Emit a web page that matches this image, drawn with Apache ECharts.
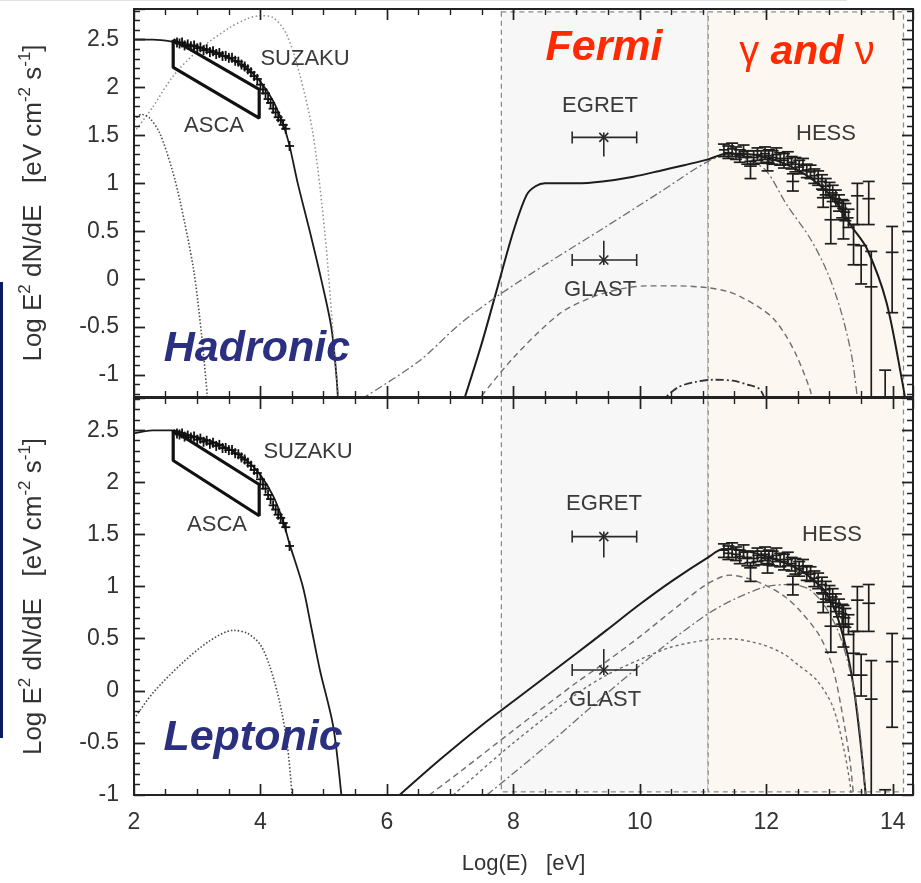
<!DOCTYPE html>
<html>
<head>
<meta charset="utf-8">
<script src="https://cdn.jsdelivr.net/npm/echarts@6/dist/echarts.min.js"></script>
<style>
  html, body { margin: 0; padding: 0; background: #ffffff; }
  #main { width: 921px; height: 883px; }
</style>
</head>
<body>
<div id="main"></div>
<script>
// ---------- axis ranges and tick spacing ----------
const xRange = [2, 14.32];
const yRangeHad = [-1.23, 2.82];
const yRangeLep = [-1.0, 2.81];
const xMajorStep = 2, xMinorStep = 0.5;
const yMajorStep = 0.5, yMinorStep = 0.1;

// energy bands (Fermi, gamma & neutrino) in Log(E)
const bandEdges = [7.81, 11.08, 14.17];
const bandTopHad = 2.79;
const bandBottomLep = -0.97;

// ---------- Hadronic model curves ----------
const hadSyncX = [2.0, 2.3, 2.6, 2.9, 3.2, 3.5, 3.8, 4.0, 4.2, 4.35, 4.45, 4.59, 4.78, 4.96, 5.12, 5.2, 5.23];
const hadSyncY = [2.5, 2.5, 2.48, 2.44, 2.39, 2.31, 2.19, 2.06, 1.86, 1.63, 1.42, 1.0, 0.5, 0.0, -0.5, -1.0, -1.3];
const hadWideDotX = [2.0, 2.3, 2.62, 3.0, 3.5, 3.8, 4.0, 4.2, 4.41, 4.62, 4.83, 5.02, 5.15, 5.24];
const hadWideDotY = [1.53, 1.8, 2.12, 2.38, 2.62, 2.72, 2.75, 2.73, 2.56, 2.14, 1.52, 0.47, -0.58, -1.3];
const hadLeftDotX = [2.0, 2.12, 2.25, 2.41, 2.6, 2.73, 2.94, 3.07, 3.17];
const hadLeftDotY = [1.66, 1.72, 1.68, 1.52, 1.15, 0.81, 0.11, -0.59, -1.3];
const hadTotalX = [7.2, 7.5, 7.73, 8.0, 8.21, 8.35, 8.5, 9.0, 9.41, 9.9, 10.31, 10.7, 11.08, 11.37, 11.8, 12.2, 12.6, 12.9, 13.1, 13.35, 13.59, 13.9, 14.15, 14.22];
const hadTotalY = [-1.3, -0.67, -0.13, 0.5, 0.88, 0.97, 1.0, 1.0, 1.02, 1.07, 1.13, 1.19, 1.25, 1.31, 1.3, 1.23, 1.1, 0.95, 0.81, 0.55, 0.32, -0.24, -1.07, -1.35];
const hadPionX = [5.6, 6.5, 7.15, 7.74, 8.5, 9.42, 10.3, 11.08, 11.4, 11.7, 12.0, 12.32, 12.69, 12.96, 13.17, 13.35, 13.45];
const hadPionY = [-1.25, -0.86, -0.47, -0.18, 0.15, 0.53, 0.9, 1.23, 1.29, 1.25, 1.13, 0.78, 0.43, 0.08, -0.31, -0.8, -1.3];
const hadNuX = [7.4, 8.0, 8.73, 9.2, 9.52, 9.8, 10.1, 10.6, 11.08, 11.4, 11.64, 11.9, 12.11, 12.3, 12.48, 12.69, 12.74];
const hadNuY = [-1.3, -0.82, -0.36, -0.2, -0.13, -0.09, -0.07, -0.07, -0.09, -0.13, -0.2, -0.3, -0.41, -0.58, -0.8, -1.15, -1.3];
const hadBumpX = [10.3, 10.6, 10.9, 11.16, 11.47, 11.7, 11.9, 12.0];
const hadBumpY = [-1.3, -1.13, -1.07, -1.05, -1.06, -1.1, -1.15, -1.3];

// ---------- Leptonic model curves ----------
const lepSyncX = [2.0, 2.3, 2.6, 2.9, 3.2, 3.5, 3.8, 4.0, 4.2, 4.35, 4.46, 4.67, 4.8, 4.94, 5.15, 5.28, 5.32];
const lepSyncY = [2.47, 2.5, 2.5, 2.45, 2.4, 2.32, 2.2, 2.07, 1.87, 1.64, 1.41, 1.0, 0.62, 0.2, -0.34, -1.0, -1.3];
const lepLowDotX = [2.0, 2.3, 2.77, 3.2, 3.57, 3.8, 4.0, 4.15, 4.3, 4.42, 4.5, 4.53];
const lepLowDotY = [-0.27, -0.02, 0.27, 0.48, 0.58, 0.55, 0.44, 0.23, -0.1, -0.5, -1.0, -1.3];
const lepTotalX = [6.2, 6.84, 7.5, 8.0, 9.0, 9.47, 10.0, 10.5, 11.08, 11.32, 11.6, 12.0, 12.5, 12.9, 13.1, 13.27, 13.38, 13.48, 13.56, 13.6];
const lepTotalY = [-1.0, -0.66, -0.33, -0.1, 0.36, 0.58, 0.83, 1.05, 1.28, 1.36, 1.35, 1.29, 1.17, 0.97, 0.75, 0.39, 0.04, -0.44, -0.92, -1.2];
const lepDashX = [6.67, 7.15, 8.0, 9.0, 9.47, 10.0, 10.7, 11.08, 11.42, 11.7, 12.0, 12.3, 12.53, 12.85, 13.06, 13.22, 13.32, 13.38, 13.42];
const lepDashY = [-1.0, -0.78, -0.38, 0.08, 0.28, 0.52, 0.86, 1.03, 1.11, 1.08, 1.01, 0.9, 0.77, 0.52, 0.2, -0.28, -0.66, -1.0, -1.2];
const lepDashDotX = [7.58, 8.5, 9.47, 10.3, 11.08, 11.5, 12.0, 12.4, 12.69, 12.95, 13.15, 13.3, 13.42, 13.5, 13.57, 13.6];
const lepDashDotY = [-1.0, -0.54, -0.03, 0.39, 0.74, 0.88, 1.0, 1.02, 0.97, 0.79, 0.55, 0.25, -0.1, -0.5, -1.0, -1.2];
const lepShortX = [7.05, 8.0, 9.0, 9.47, 10.0, 10.5, 11.08, 11.4, 11.9, 12.26, 12.5, 12.8, 13.05, 13.22, 13.33, 13.36];
const lepShortY = [-1.0, -0.5, -0.03, 0.15, 0.3, 0.42, 0.49, 0.5, 0.45, 0.36, 0.25, 0.1, -0.15, -0.54, -0.92, -1.2];

// ---------- X-ray data (SUZAKU) ----------
const suzakuX = [2.68, 2.72, 2.76, 2.8, 2.85, 2.9, 2.95, 3.0, 3.05, 3.1, 3.15, 3.2, 3.25, 3.3, 3.35, 3.4, 3.45, 3.5, 3.55, 3.6,
  3.65, 3.7, 3.75, 3.8, 3.85, 3.9, 3.95, 4.0, 4.04, 4.08, 4.12, 4.16, 4.2, 4.24, 4.28, 4.32, 4.36, 4.4, 4.46];
const suzakuY = [2.47, 2.46, 2.47, 2.44, 2.45, 2.43, 2.44, 2.41, 2.42, 2.39, 2.4, 2.37, 2.38, 2.35, 2.36, 2.33, 2.33, 2.31, 2.31, 2.28,
  2.27, 2.24, 2.22, 2.19, 2.16, 2.12, 2.09, 2.03, 1.98, 1.94, 1.88, 1.84, 1.78, 1.74, 1.69, 1.66, 1.61, 1.57, 1.39];

// ASCA flux band (corner points)
const ascaX = [2.62, 3.98, 3.98, 2.62, 2.62];
const ascaY = [2.5, 1.98, 1.68, 2.21, 2.5];

// ---------- EGRET / GLAST flux points ----------
const fluxX = [9.43, 9.43];
const fluxY = [1.48, 0.2];
const fluxXLo = [8.93, 8.93];
const fluxXHi = [9.95, 9.95];
const fluxLimit = [1.28, 0.4];

// ---------- HESS TeV data ----------
const hessX = [11.33, 11.4, 11.46, 11.52, 11.58, 11.64, 11.7, 11.8, 11.86, 11.92, 11.98, 12.04, 12.1, 12.16, 12.22, 12.28, 12.34,
  12.4, 12.46, 12.52, 12.58, 12.64, 12.7, 12.76, 12.82, 12.88, 12.94, 13.0, 13.05, 13.1, 13.15, 13.2, 13.25, 13.3,
  11.75, 12.02, 12.42, 12.9, 13.02, 13.22, 13.38, 13.44, 13.5, 13.62, 13.66, 13.99, 13.88];
const hessY = [1.35, 1.32, 1.36, 1.31, 1.29, 1.33, 1.28, 1.27, 1.3, 1.28, 1.31, 1.29, 1.27, 1.3, 1.26, 1.24, 1.26,
  1.22, 1.2, 1.17, 1.19, 1.14, 1.12, 1.08, 1.05, 1.02, 0.97, 0.93, 0.9, 0.84, 0.8, 0.74, 0.7, 0.64,
  1.18, 1.22, 1.02, 0.85, 0.62, 0.62, 0.36, 0.87, 0.15, 0.84, -0.08, 0.28, -1.5];
const hessErrLo = [0.07, 0.06, 0.08, 0.06, 0.07, 0.06, 0.08, 0.07, 0.06, 0.07, 0.06, 0.08, 0.07, 0.06, 0.07, 0.08, 0.06,
  0.07, 0.08, 0.07, 0.06, 0.08, 0.07, 0.08, 0.07, 0.08, 0.09, 0.08, 0.09, 0.08, 0.09, 0.1, 0.09, 0.1,
  0.13, 0.09, 0.1, 0.1, 0.25, 0.2, 0.21, 0.3, 0.2, 0.27, 1.5, 0.63, 0.5];
const hessErrHi = [0.06, 0.07, 0.06, 0.07, 0.06, 0.07, 0.06, 0.07, 0.07, 0.06, 0.07, 0.06, 0.07, 0.07, 0.06, 0.07, 0.07,
  0.06, 0.07, 0.07, 0.07, 0.06, 0.07, 0.07, 0.08, 0.07, 0.08, 0.08, 0.08, 0.09, 0.08, 0.09, 0.09, 0.09,
  0.05, 0.05, 0.08, 0.08, 0.25, 0.2, 0.21, 0.13, 0.2, 0.18, 0.37, 0.27, 0.55];
const hessXErr = [0.08, 0.08, 0.08, 0.08, 0.08, 0.08, 0.08, 0.08, 0.08, 0.08, 0.08, 0.08, 0.08, 0.08, 0.08, 0.08, 0.08,
  0.08, 0.08, 0.08, 0.08, 0.08, 0.08, 0.08, 0.08, 0.08, 0.08, 0.08, 0.08, 0.08, 0.08, 0.08, 0.08, 0.08,
  0.1, 0.1, 0.1, 0.1, 0.1, 0.1, 0.1, 0.1, 0.1, 0.1, 0.1, 0.1, 0.1];

// ---------- layout ----------
const gridBoxes = [
  { left: 134, top: 9, width: 779, height: 388 },
  { left: 134, top: 398, width: 779, height: 397 }
];

// ---------- helpers ----------
const FONT = '"Liberation Sans", Arial, Helvetica, sans-serif';
const INK = '#1c1c1c';
const zip = (xs, ys) => xs.map((x, i) => [x, ys[i]]);
const onStep = (v, step) => Math.abs(v / step - Math.round(v / step)) < 1e-6;

function curve(name, xs, ys, grid, style) {
  return {
    name, type: 'line', xAxisIndex: grid * 2, yAxisIndex: grid * 2,
    data: zip(xs, ys), showSymbol: false, smooth: 0.3, clip: true, silent: true, z: 3,
    lineStyle: Object.assign({ color: INK, width: 1.8, type: 'solid' }, style)
  };
}

function bands(grid, yLo, yHi) {
  const fills = ['#f7f7f7', '#fcf8f1'];
  const data = [[bandEdges[0], bandEdges[1]], [bandEdges[1], bandEdges[2]]];
  return {
    type: 'custom', xAxisIndex: grid * 2, yAxisIndex: grid * 2, data, clip: true, silent: true, z: 1,
    renderItem(params, api) {
      const p0 = api.coord([api.value(0), yHi]);
      const p1 = api.coord([api.value(1), yLo]);
      const shape = { x: p0[0], y: p0[1], width: p1[0] - p0[0], height: p1[1] - p0[1] };
      return {
        type: 'group', children: [
          { type: 'rect', shape, style: { fill: fills[params.dataIndex] } },
          { type: 'rect', shape, style: { fill: null, stroke: '#8a8a8a', lineWidth: 1.3, lineDash: [5, 4] } }
        ]
      };
    }
  };
}

// inward tick marks on the four frame edges, as short segments in data coordinates
function frameTicks(grid, yRange) {
  const box = gridBoxes[grid];
  const dxPerPx = (xRange[1] - xRange[0]) / box.width;
  const dyPerPx = (yRange[1] - yRange[0]) / box.height;
  const segs = [];
  for (let k = Math.ceil(xRange[0] / xMinorStep); k * xMinorStep < xRange[1]; k++) {
    const v = k * xMinorStep;
    if (v <= xRange[0]) continue;
    const d = (onStep(v, xMajorStep) ? 11 : 6) * dyPerPx;
    segs.push({ coords: [[v, yRange[0]], [v, yRange[0] + d]] });
    segs.push({ coords: [[v, yRange[1]], [v, yRange[1] - d]] });
  }
  for (let k = Math.ceil(yRange[0] / yMinorStep - 1e-9); k * yMinorStep < yRange[1]; k++) {
    const v = +(k * yMinorStep).toFixed(4);
    if (v <= yRange[0]) continue;
    const d = (onStep(v, yMajorStep) ? 11 : 6) * dxPerPx;
    segs.push({ coords: [[xRange[0], v], [xRange[0] + d, v]] });
    segs.push({ coords: [[xRange[1], v], [xRange[1] - d, v]] });
  }
  return {
    type: 'lines', coordinateSystem: 'cartesian2d', xAxisIndex: grid * 2, yAxisIndex: grid * 2,
    polyline: false, silent: true, z: 12, data: segs,
    effect: { show: false },
    lineStyle: { color: '#222', width: 1.4, opacity: 1, curveness: 0 }
  };
}

function crosses(grid) {
  return {
    type: 'custom', xAxisIndex: grid * 2, yAxisIndex: grid * 2, data: zip(suzakuX, suzakuY),
    clip: true, silent: true, z: 4,
    renderItem(params, api) {
      const p = api.coord([api.value(0), api.value(1)]);
      const st = { stroke: '#111', lineWidth: 1.8 };
      return {
        type: 'group', children: [
          { type: 'line', shape: { x1: p[0] - 4.5, y1: p[1], x2: p[0] + 4.5, y2: p[1] }, style: st },
          { type: 'line', shape: { x1: p[0], y1: p[1] - 5, x2: p[0], y2: p[1] + 5 }, style: st }
        ]
      };
    }
  };
}

function hess(grid) {
  const data = hessX.map((x, i) => [x, hessY[i], hessErrLo[i], hessErrHi[i], hessXErr[i]]);
  return {
    type: 'custom', xAxisIndex: grid * 2, yAxisIndex: grid * 2, data, clip: true, silent: true, z: 4,
    renderItem(params, api) {
      const x = api.value(0), y = api.value(1);
      const lo = api.coord([x, y - api.value(2)]);
      const hi = api.coord([x, y + api.value(3)]);
      const l = api.coord([x - api.value(4), y]);
      const r = api.coord([x + api.value(4), y]);
      const st = { stroke: '#1e1e1e', lineWidth: 1.7 };
      const cap = 6;
      return {
        type: 'group', children: [
          { type: 'line', shape: { x1: lo[0], y1: lo[1], x2: hi[0], y2: hi[1] }, style: st },
          { type: 'line', shape: { x1: lo[0] - cap, y1: lo[1], x2: lo[0] + cap, y2: lo[1] }, style: st },
          { type: 'line', shape: { x1: hi[0] - cap, y1: hi[1], x2: hi[0] + cap, y2: hi[1] }, style: st },
          { type: 'line', shape: { x1: l[0], y1: l[1], x2: r[0], y2: r[1] }, style: st }
        ]
      };
    }
  };
}

function fluxPoints(grid) {
  const data = fluxX.map((x, i) => [x, fluxY[i], fluxXLo[i], fluxXHi[i], fluxLimit[i]]);
  return {
    type: 'custom', xAxisIndex: grid * 2, yAxisIndex: grid * 2, data, clip: true, silent: true, z: 5,
    renderItem(params, api) {
      const x = api.value(0), y = api.value(1);
      const c = api.coord([x, y]);
      const l = api.coord([api.value(2), y]);
      const r = api.coord([api.value(3), y]);
      const e = api.coord([x, api.value(4)]);
      const dir = e[1] > c[1] ? -1 : 1;
      const st = { stroke: '#2a2a2a', lineWidth: 1.6 };
      const d = 4.5;
      return {
        type: 'group', children: [
          { type: 'line', shape: { x1: l[0], y1: l[1], x2: r[0], y2: r[1] }, style: st },
          { type: 'line', shape: { x1: l[0], y1: l[1] - 6, x2: l[0], y2: l[1] + 6 }, style: st },
          { type: 'line', shape: { x1: r[0], y1: r[1] - 6, x2: r[0], y2: r[1] + 6 }, style: st },
          { type: 'line', shape: { x1: c[0], y1: c[1] + dir * 5, x2: e[0], y2: e[1] }, style: st },
          { type: 'line', shape: { x1: c[0] - d, y1: c[1] - d, x2: c[0] + d, y2: c[1] + d }, style: st },
          { type: 'line', shape: { x1: c[0] - d, y1: c[1] + d, x2: c[0] + d, y2: c[1] - d }, style: st }
        ]
      };
    }
  };
}

function ascaBox(grid) {
  return {
    type: 'line', xAxisIndex: grid * 2, yAxisIndex: grid * 2, data: zip(ascaX, ascaY),
    showSymbol: false, smooth: false, silent: true, z: 4,
    lineStyle: { color: '#111', width: 3.2 }
  };
}

// ---------- axes (frame lines, major ticks and labels) ----------
const axisLineStyle = { color: '#222', width: 2 };

function xAxesFor(grid, withLabels) {
  const mk = (pos, labels) => ({
    type: 'value', gridIndex: grid, min: xRange[0], max: xRange[1], splitLine: { show: false }, z: 10,
    position: pos, minInterval: xMajorStep, maxInterval: xMajorStep, splitNumber: 6,
    axisLine: { show: true, onZero: false, lineStyle: { color: '#222', width: 2 } },
    axisTick: { show: true, inside: true, length: 11, lineStyle: { color: '#222', width: 1.4 } },
    axisLabel: labels
      ? { show: true, fontSize: 23, color: '#333', fontFamily: FONT, margin: 16,
          formatter: v => (onStep(v, xMajorStep) ? String(Math.round(v)) : '') }
      : { show: false }
  });
  const bottom = mk('bottom', withLabels);
  if (withLabels) {
    bottom.name = 'Log(E)   [eV]';
    bottom.nameLocation = 'middle';
    bottom.nameGap = 58;
    bottom.nameTextStyle = { fontSize: 22, color: '#333', fontFamily: FONT };
  }
  return [bottom, mk('top', false)];
}

const yTitle = '{n|Log E}{s|2}{n| dN/dE   [eV cm}{s|-2}{n| s}{s|-1}{n|]}';
const yTitleStyle = {
  fontFamily: FONT, color: '#333',
  rich: {
    n: { fontSize: 26, color: '#333', fontFamily: FONT },
    s: { fontSize: 17, color: '#333', fontFamily: FONT, padding: [0, 0, 16, 0] }
  }
};

function yAxesFor(grid, range) {
  const mk = (pos, labels) => ({
    type: 'value', gridIndex: grid, min: range[0], max: range[1], splitLine: { show: false }, z: 10,
    position: pos, minInterval: yMajorStep, maxInterval: yMajorStep, splitNumber: 8,
    axisLine: { show: true, onZero: false, lineStyle: { color: '#222', width: 2 } },
    axisTick: { show: true, inside: true, length: 11, lineStyle: { color: '#222', width: 1.4 } },
    axisLabel: labels
      ? { show: true, fontSize: 23, color: '#333', fontFamily: FONT, margin: 15,
          formatter: v => (onStep(v, yMajorStep) ? String(Math.round(v * 2) / 2) : '') }
      : { show: false }
  });
  const left = mk('left', true);
  left.name = yTitle;
  left.nameLocation = 'middle';
  left.nameRotate = 90;
  left.nameGap = 84;
  left.nameTextStyle = yTitleStyle;
  return [left, mk('right', false)];
}

// ---------- text annotations ----------
function label(text, x, y, size, extra) {
  return {
    type: 'text', x, y, z: 20, silent: true,
    style: Object.assign({ text, fill: '#3a3a3a', font: size + 'px ' + FONT, align: 'center', verticalAlign: 'middle' }, extra || {})
  };
}

const graphics = [
  { type: 'rect', shape: { x: 0, y: 282, width: 3, height: 456 }, style: { fill: '#0b1b5e' }, silent: true, z: 20 },
  { type: 'rect', shape: { x: 0, y: 0, width: 847, height: 1 }, style: { fill: '#e2e2e2' }, silent: true },
  label('SUZAKU', 305, 59, 22),
  label('ASCA', 214, 126, 22),
  label('EGRET', 600, 106, 22),
  label('GLAST', 600, 290, 22),
  label('HESS', 826, 134, 22),
  label('SUZAKU', 308, 452, 22),
  label('ASCA', 217, 525, 22),
  label('EGRET', 604, 504, 22),
  label('GLAST', 605, 700, 22),
  label('HESS', 832, 535, 22),
  label('Fermi', 604, 48, 43, { fill: '#ff2a00', font: 'italic bold 43px ' + FONT }),
  {
    type: 'text', x: 807, y: 53, z: 20, silent: true,
    style: {
      text: '{g|γ }{a|and }{g|ν}', align: 'center', verticalAlign: 'middle', fill: '#ff2a00',
      rich: {
        g: { fontSize: 40, fontWeight: 'normal', fontStyle: 'normal', fontFamily: FONT, fill: '#ff2a00' },
        a: { fontSize: 41, fontWeight: 'bold', fontStyle: 'italic', fontFamily: FONT, fill: '#ff2a00' }
      }
    }
  },
  label('Hadronic', 257, 349, 43, { fill: '#2b2f80', font: 'italic bold 43px ' + FONT }),
  label('Leptonic', 253, 738, 43, { fill: '#2b2f80', font: 'italic bold 43px ' + FONT })
];

// ---------- chart ----------
const chart = echarts.init(document.getElementById('main'), null, { renderer: 'canvas' });
chart.setOption({
  animation: false,
  backgroundColor: '#ffffff',
  grid: gridBoxes,
  xAxis: [...xAxesFor(0, false), ...xAxesFor(1, true)],
  yAxis: [...yAxesFor(0, yRangeHad), ...yAxesFor(1, yRangeLep)],
  series: [
    // Hadronic panel
    bands(0, yRangeHad[0], bandTopHad),
    curve('sync', hadSyncX, hadSyncY, 0, { width: 1.8 }),
    curve('wide dotted', hadWideDotX, hadWideDotY, 0, { color: '#8f8f8f', width: 1.5, type: [1.5, 2.5] }),
    curve('left dotted', hadLeftDotX, hadLeftDotY, 0, { color: '#4a4a4a', width: 1.6, type: [1.5, 2] }),
    curve('total', hadTotalX, hadTotalY, 0, { width: 2 }),
    curve('pi0', hadPionX, hadPionY, 0, { color: '#6e6e6e', width: 1.3, type: [8, 3, 2, 3] }),
    curve('nu', hadNuX, hadNuY, 0, { color: '#6e6e6e', width: 1.4, type: [6, 4] }),
    curve('bump', hadBumpX, hadBumpY, 0, { color: '#333', width: 1.8, type: [8, 3, 2, 3] }),
    ascaBox(0), crosses(0), hess(0), fluxPoints(0), frameTicks(0, yRangeHad),
    // Leptonic panel
    bands(1, bandBottomLep, yRangeLep[1]),
    curve('sync', lepSyncX, lepSyncY, 1, { width: 1.8 }),
    curve('low dotted', lepLowDotX, lepLowDotY, 1, { color: '#4a4a4a', width: 1.6, type: [1.5, 2] }),
    curve('total', lepTotalX, lepTotalY, 1, { width: 2 }),
    curve('dashed', lepDashX, lepDashY, 1, { color: '#6e6e6e', width: 1.4, type: [6, 4] }),
    curve('dash-dot', lepDashDotX, lepDashDotY, 1, { color: '#6e6e6e', width: 1.3, type: [8, 3, 2, 3] }),
    curve('short dash', lepShortX, lepShortY, 1, { color: '#6e6e6e', width: 1.4, type: [3, 3] }),
    ascaBox(1), crosses(1), hess(1), fluxPoints(1), frameTicks(1, yRangeLep)
  ],
  graphic: graphics
});
</script>
</body>
</html>
